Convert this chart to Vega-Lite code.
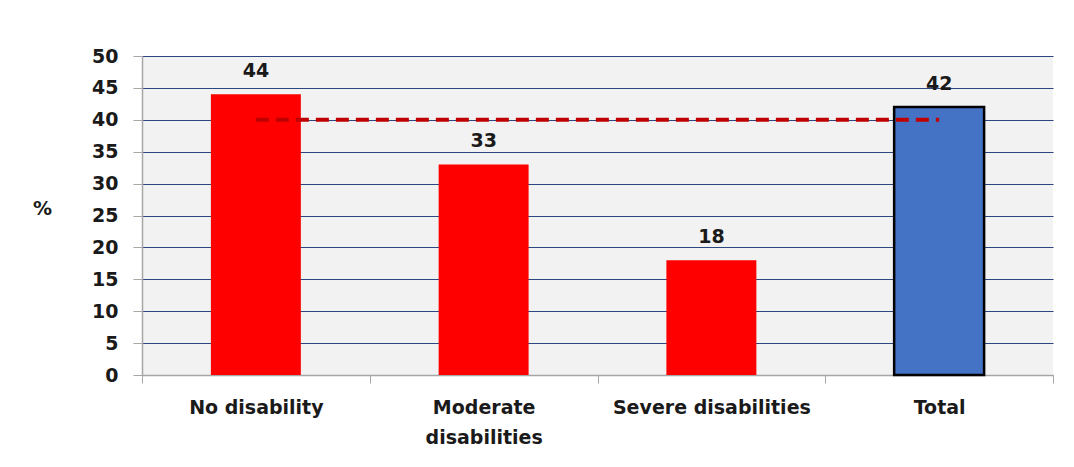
{
  "$schema": "https://vega.github.io/schema/vega-lite/v6.json",
  "autosize": "none",
  "width": 911,
  "height": 319,
  "padding": {"left": 142, "top": 56, "right": 21, "bottom": 92},
  "background": "white",
  "config": {
    "font": "DejaVu Sans",
    "view": {"stroke": null, "fill": "#f2f2f2"}
  },
  "data": {
    "values": [
      {"cat": "No disability", "pct": 44},
      {"cat": "Moderate disabilities", "pct": 33},
      {"cat": "Severe disabilities", "pct": 18},
      {"cat": "Total", "pct": 42}
    ]
  },
  "encoding": {
    "x": {
      "field": "cat",
      "type": "nominal",
      "sort": null,
      "scale": {"paddingInner": 0, "paddingOuter": 0},
      "axis": {
        "title": null,
        "labelAngle": 0,
        "labelFont": "DejaVu Sans",
        "labelFontSize": 19,
        "labelFontWeight": "bold",
        "labelColor": "#1a1a1a",
        "labelPadding": 15,
        "labelBaseline": "top",
        "labelLineHeight": 30,
        "labelLimit": 400,
        "labelExpr": "datum.value === 'Moderate disabilities' ? ['Moderate', 'disabilities'] : datum.value",
        "tickBand": "extent",
        "tickSize": 8,
        "tickColor": "#a6a6a6",
        "domainColor": "#a6a6a6",
        "domainWidth": 1.5,
        "grid": false
      }
    },
    "y": {
      "field": "pct",
      "type": "quantitative",
      "scale": {"domain": [0, 50]},
      "axis": {
        "values": [0, 5, 10, 15, 20, 25, 30, 35, 40, 45, 50],
        "labelOverlap": false,
        "title": "%",
        "titleAngle": 0,
        "titleX": -100,
        "titleY": 152,
        "titleAlign": "center",
        "titleBaseline": "middle",
        "titleFont": "DejaVu Sans",
        "titleFontSize": 19,
        "titleFontWeight": "bold",
        "titleColor": "#1a1a1a",
        "labelFont": "DejaVu Sans",
        "labelFontSize": 19,
        "labelFontWeight": "bold",
        "labelColor": "#1a1a1a",
        "labelPadding": 15,
        "tickSize": 9,
        "tickColor": "#a6a6a6",
        "domainColor": "#a6a6a6",
        "domainWidth": 1.5,
        "gridColor": "#2b4680",
        "gridWidth": 1.2,
        "gridOpacity": 1
      }
    }
  },
  "layer": [
    {
      "mark": {"type": "bar", "width": {"band": 0.395}, "strokeWidth": 2.5},
      "encoding": {
        "color": {
          "field": "cat",
          "type": "nominal",
          "scale": {
            "domain": ["No disability", "Moderate disabilities", "Severe disabilities", "Total"],
            "range": ["#ff0000", "#ff0000", "#ff0000", "#4472c4"]
          },
          "legend": null
        },
        "stroke": {
          "condition": {"test": "datum.cat === 'Total'", "value": "#000000"},
          "value": null
        }
      }
    },
    {
      "mark": {"type": "text", "baseline": "bottom", "dy": -13, "font": "DejaVu Sans", "fontSize": 19, "fontWeight": "bold", "color": "#1a1a1a"},
      "encoding": {
        "text": {"field": "pct", "type": "quantitative"}
      }
    },
    {
      "data": {
        "values": [
          {"cat": "No disability", "pct": 40},
          {"cat": "Total", "pct": 40}
        ]
      },
      "mark": {"type": "line", "color": "#c00000", "strokeWidth": 4, "strokeDash": [13, 7]},
      "encoding": {}
    }
  ]
}
